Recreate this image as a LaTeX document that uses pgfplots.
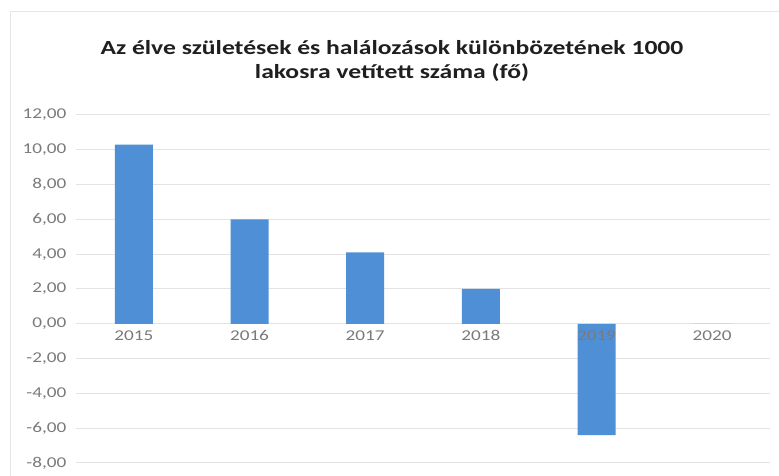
\documentclass[border=0pt]{standalone}
\usepackage{pgfplots}
\pgfplotsset{compat=1.18}
\usepackage{fontspec}
\setmainfont{Carlito}
\definecolor{barblue}{HTML}{4F8FD6}
\definecolor{gridgray}{HTML}{E3E3E3}
\definecolor{labelgray}{HTML}{7A7A7A}
\definecolor{framegray}{HTML}{E6E6E6}

\begin{document}
\begin{tikzpicture}[x=1pt,y=1pt]
\useasboundingbox (0,0) rectangle (779,476);
\fill[white] (0,0) rectangle (779,476);
\draw[framegray, line width=1pt] (10,0) -- (10,464) -- (779,464);

\node[font=\fontsize{20}{24}\selectfont\bfseries, align=center, text=black!88, xscale=1.28]
  at (392,415) {Az élve születések és halálozások különbözetének 1000\\lakosra vetített száma (fő)};

\begin{axis}[
  at={(76pt,13pt)}, anchor=south west,
  scale only axis,
  width=694pt, height=348pt,
  ymin=-8, ymax=12,
  ytick={-8,-6,...,12},
  xmin=-0.5, xmax=5.5,
  xtick={0,1,2,3,4,5},
  xticklabels={},
  axis x line=middle,
  axis y line=left,
  axis line style={draw=none},
  x axis line style={gridgray, line width=1pt},
  major tick length=0pt,
  ymajorgrids,
  grid style={gridgray, line width=1pt},
  tick label style={font=\fontsize{15}{17}\selectfont, text=labelgray, xscale=1.28},
  yticklabel style={xshift=-4pt},
  /pgf/number format/assume math mode=true,
  yticklabel={\pgfmathprintnumber[fixed, fixed zerofill, precision=2, use comma]{\tick}},
  clip=false,
]
\addplot[ybar, bar width=38pt, fill=barblue, draw=none] coordinates {
  (0,10.3) (1,6.0) (2,4.1) (3,2.0) (4,-6.4) (5,0)
};
% category labels sit just under the zero line, drawn over the bars
\addplot[draw=none, mark=none, nodes near coords, point meta=explicit symbolic,
  nodes near coords style={anchor=north, yshift=-3pt, font=\fontsize{15}{17}\selectfont,
    text=labelgray, xscale=1.28, text height=10pt, text depth=0pt}]
  coordinates {
  (0,0) [2015] (1,0) [2016] (2,0) [2017] (3,0) [2018] (4,0) [2019] (5,0) [2020]
};
\end{axis}
\end{tikzpicture}
\end{document}
